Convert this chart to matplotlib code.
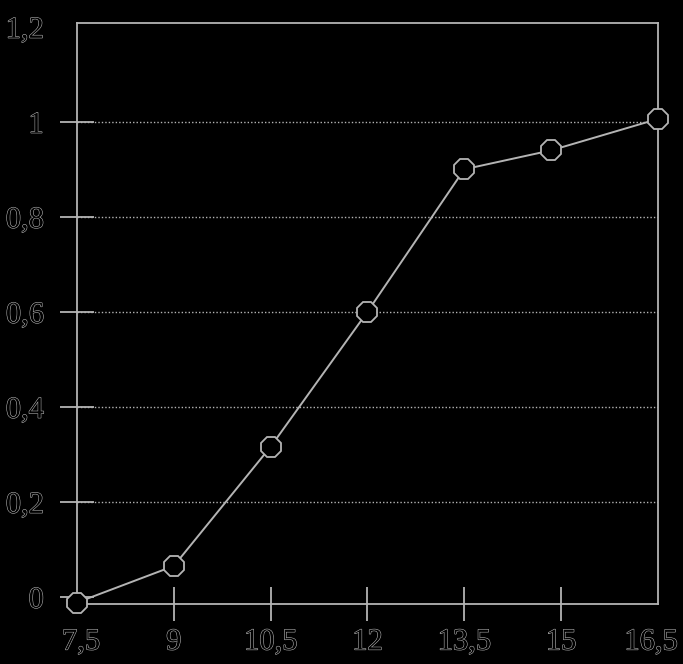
import matplotlib
matplotlib.use("Agg")
import matplotlib.pyplot as plt
import matplotlib.patheffects as pe
from matplotlib.transforms import ScaledTranslation

# values
x_vals = [7.5, 9.0, 10.5, 12.0, 13.5, 14.85, 16.5]
y_vals = [-0.012, 0.065, 0.316, 0.60, 0.90, 0.94, 1.006]
x_ticks = [7.5, 9, 10.5, 12, 13.5, 15, 16.5]
x_labels = ["7,5", "9", "10,5", "12", "13,5", "15", "16,5"]
y_ticks = [0, 0.2, 0.4, 0.6, 0.8, 1.0, 1.2]
y_labels = ["0", "0,2", "0,4", "0,6", "0,8", "1", "1,2"]

plt.rcParams["font.family"] = ["Liberation Serif", "DejaVu Serif"]

fg = "#b4b4b4"
outline = [pe.withStroke(linewidth=0.8, foreground=fg)]
font = dict(family="Liberation Serif", size=22, color="black")

fig = plt.figure(figsize=(6.83, 6.64), dpi=100, facecolor="black")
ax = fig.add_axes([0.1127, 0.0904, 0.8506, 0.875], facecolor="black")

for y in y_ticks[1:-1]:
    ax.axhline(y, color=fg, lw=1.0, ls=(0, (1, 1.5)), zorder=1)

ax.plot(x_vals, y_vals, color=fg, lw=1.4, marker="8", markersize=15,
        markerfacecolor="black", markeredgecolor=fg, markeredgewidth=1.3,
        zorder=3, clip_on=False)

ax.set_xlim(7.5, 16.5)
ax.set_ylim(-0.015, 1.208)
ax.set_xticks(x_ticks)
ax.set_yticks(y_ticks)
ax.set_xticklabels(x_labels, fontdict=font)
ax.set_yticklabels(y_labels, fontdict=font)

for s in ax.spines.values():
    s.set_color(fg)
    s.set_linewidth(1.3)

ax.tick_params(axis="both", direction="inout", length=24, width=1.3,
               color=fg)
ax.tick_params(axis="x", pad=5)
ax.tick_params(axis="y", pad=12)

# no marks at the frame corners
xt = ax.xaxis.get_major_ticks()
xt[0].tick1line.set_visible(False)
xt[-1].tick1line.set_visible(False)
ax.yaxis.get_major_ticks()[-1].tick1line.set_visible(False)

for lab in ax.get_xticklabels() + ax.get_yticklabels():
    lab.set_path_effects(outline)

# end labels sit a little inward, as in the original
xl = ax.get_xticklabels()
xl[0].set_transform(xl[0].get_transform() + ScaledTranslation(0.04, 0, fig.dpi_scale_trans))
xl[-1].set_transform(xl[-1].get_transform() + ScaledTranslation(-0.07, 0, fig.dpi_scale_trans))

fig.savefig("out.png", dpi=100, facecolor="black")
